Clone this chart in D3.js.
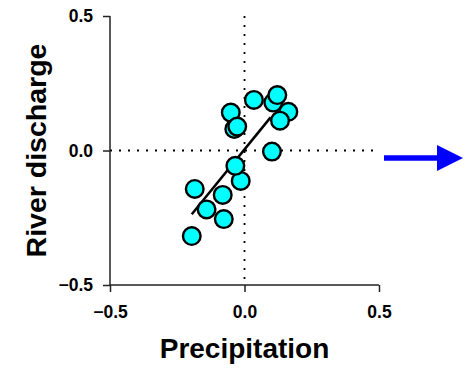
<!DOCTYPE html>
<html>
<head>
<meta charset="utf-8">
<script src="https://cdn.jsdelivr.net/npm/d3@7"></script>
<style>
  html, body { margin: 0; padding: 0; background: #fff; }
  svg { display: block; }
  text { font-family: "Liberation Sans", Arial, sans-serif; font-weight: bold; fill: #000; }
</style>
</head>
<body>
<svg id="chart" width="471" height="376"></svg>
<script>
// Data (precipitation anomaly, river discharge anomaly)
const precipitation = [0.035, 0.107, 0.122, 0.163, 0.132, -0.051, -0.038, -0.027, 0.102, -0.014, -0.034, -0.185, -0.141, -0.081, -0.077, -0.196];
const discharge     = [0.188, 0.178, 0.206, 0.144, 0.111, 0.141, 0.080, 0.089, -0.004, -0.113, -0.057, -0.143, -0.219, -0.165, -0.255, -0.318];
const fitX = [-0.196, 0.097];
const fitY = [-0.237, 0.123];
const xTicks = [-0.5, 0.0, 0.5];
const yTicks = [-0.5, 0.0, 0.5];
const xTitle = "Precipitation";
const yTitle = "River discharge";

const svg = d3.select("#chart");
const x = d3.scaleLinear().domain([-0.5, 0.5]).range([110, 379]);
const y = d3.scaleLinear().domain([-0.5, 0.5]).range([285, 16]);

// reference dotted lines at zero
svg.append("line")
  .attr("x1", x(0)).attr("x2", x(0)).attr("y1", y(0.5)).attr("y2", y(-0.5))
  .attr("stroke", "#000").attr("stroke-width", 1.8).attr("stroke-dasharray", "2,7");
svg.append("line")
  .attr("x1", x(-0.5)).attr("x2", x(0.5)).attr("y1", y(0)).attr("y2", y(0))
  .attr("stroke", "#000").attr("stroke-width", 1.8).attr("stroke-dasharray", "2,7");

// axes
const fmt = d3.format(".1f");
const xAxis = svg.append("g").attr("transform", `translate(0,${y(-0.5)})`)
  .call(d3.axisBottom(x).tickValues(xTicks).tickFormat(fmt).tickSize(7).tickPadding(14));
const yAxis = svg.append("g").attr("transform", `translate(${x(-0.5)},0)`)
  .call(d3.axisLeft(y).tickValues(yTicks).tickFormat(fmt).tickSize(7).tickPadding(10));
[xAxis, yAxis].forEach(g => {
  g.attr("font-family", '"Liberation Sans", Arial, sans-serif').attr("font-weight", "bold").attr("font-size", 17.5);
  g.select(".domain").attr("stroke", "#222").attr("stroke-width", 1.5);
  g.selectAll(".tick line").attr("stroke", "#222").attr("stroke-width", 1.5);
  g.selectAll(".tick text").style("font-family", '"Liberation Sans", Arial, sans-serif')
    .style("font-weight", "700").style("font-size", "17.5px").attr("fill", "#000");
});
xAxis.select(".domain").attr("d", `M${x(-0.5)},0H${x(0.5)}`);
yAxis.select(".domain").attr("d", `M0,${y(0.5)}V${y(-0.5)}`);

// regression line
svg.append("line")
  .attr("x1", x(fitX[0])).attr("y1", y(fitY[0]))
  .attr("x2", x(fitX[1])).attr("y2", y(fitY[1]))
  .attr("stroke", "#000").attr("stroke-width", 2.5);

// points
svg.append("g").selectAll("circle")
  .data(precipitation.map((p, i) => [p, discharge[i]]))
  .join("circle")
  .attr("cx", d => x(d[0])).attr("cy", d => y(d[1]))
  .attr("r", 8.8)
  .attr("fill", "#00FFFF").attr("stroke", "#000").attr("stroke-width", 2.4);

// titles
svg.append("text").attr("x", x(0)).attr("y", 358).attr("text-anchor", "middle")
  .style("font-size", "28px").text(xTitle);
svg.append("text").attr("transform", `translate(46,${y(0)}) rotate(-90)`)
  .attr("text-anchor", "middle").style("font-size", "28.5px").text(yTitle);

// blue arrow
const arrowY = 158;
svg.append("line").attr("x1", 384).attr("x2", 440).attr("y1", arrowY).attr("y2", arrowY)
  .attr("stroke", "#0000FF").attr("stroke-width", 5.5);
svg.append("path").attr("d", `M437,${arrowY - 13}L463,${arrowY}L437,${arrowY + 13}Z`)
  .attr("fill", "#0000FF");
</script>
</body>
</html>
